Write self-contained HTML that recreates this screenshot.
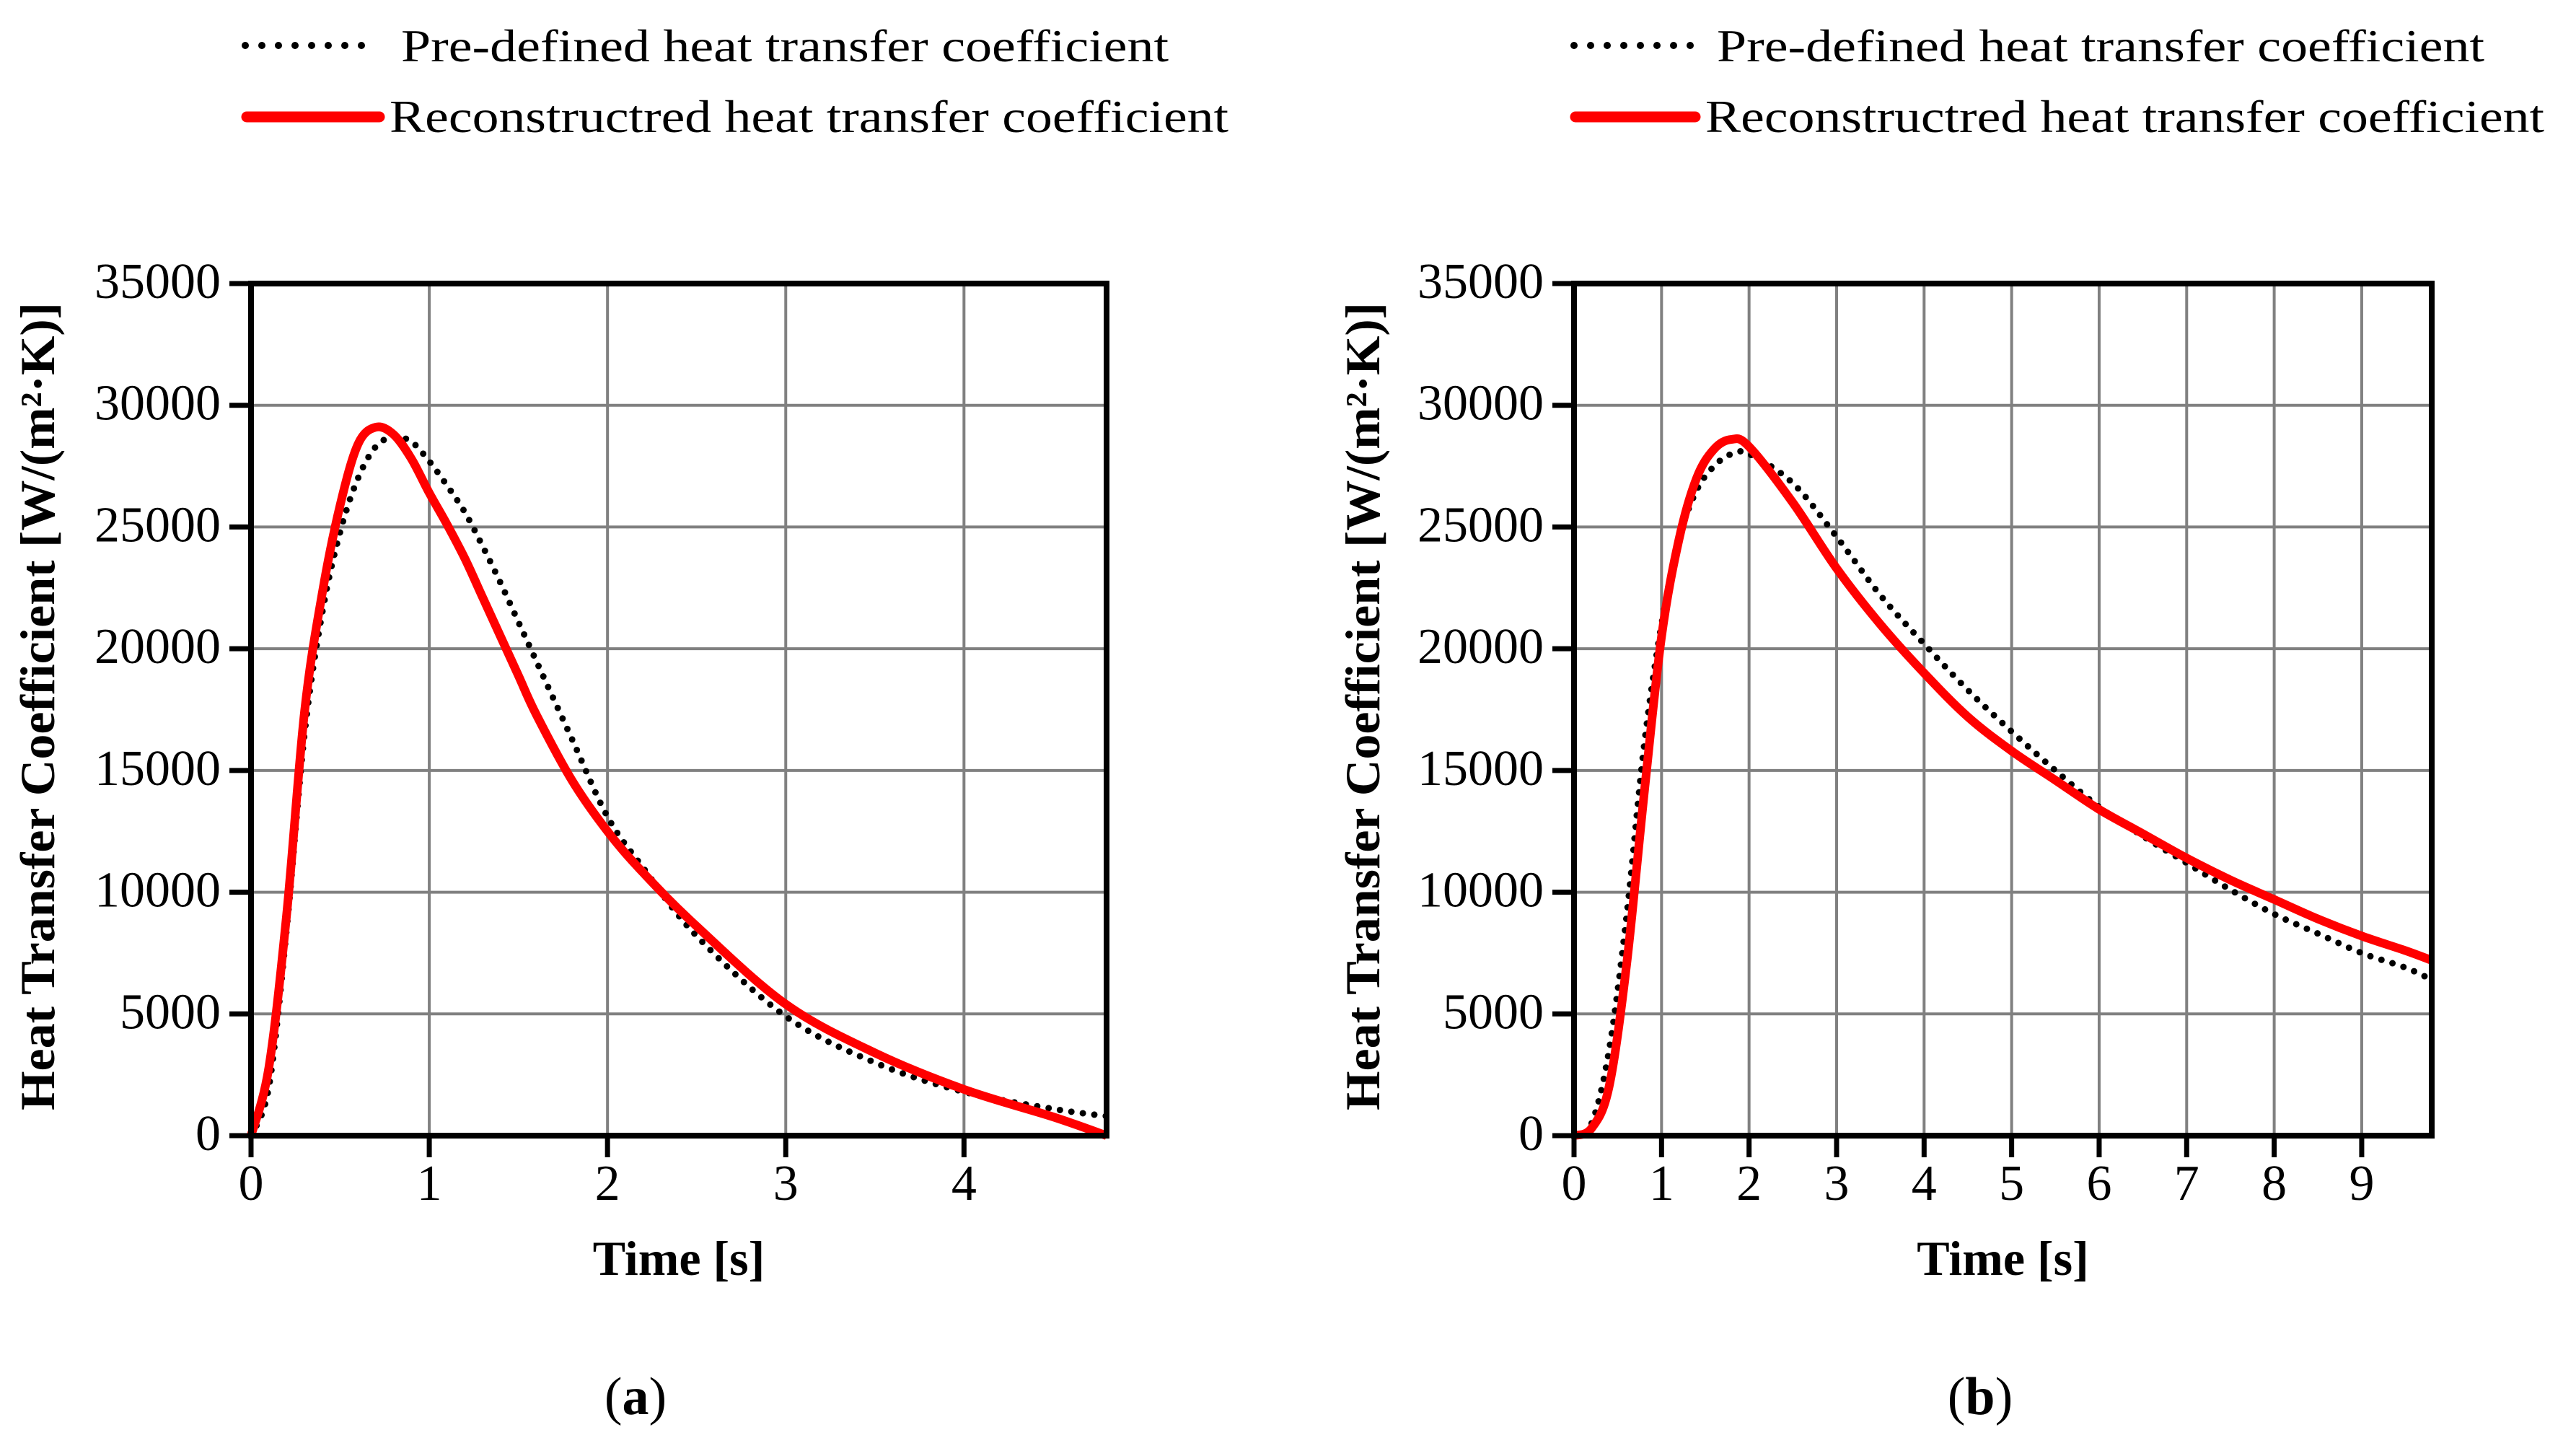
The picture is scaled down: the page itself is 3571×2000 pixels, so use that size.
<!DOCTYPE html>
<html><head><meta charset="utf-8"><style>
html,body{margin:0;padding:0;background:#fff}
svg{display:block}
text{font-family:"Liberation Serif",serif;fill:#000}
</style></head><body>
<svg id="fig" width="3571" height="2000" viewBox="0 0 3571 2000" xmlns="http://www.w3.org/2000/svg"></svg>
<script>
const yTicks=[0,5000,10000,15000,20000,25000,30000,35000];
const aTicks=[0,1,2,3,4];
const bTicks=[0,1,2,3,4,5,6,7,8,9];
const aX=[0,0.1,0.2,0.3,0.4,0.5,0.6,0.7,0.8,0.9,1.0,1.1,1.2,1.3,1.4,1.5,1.6,1.8,2.0,2.2,2.5,3.0,3.5,4.0,4.5,4.8];
const aRed=[0,2800,9100,17400,22300,25900,28400,29100,28800,27800,26400,25100,23700,22100,20500,18900,17300,14600,12500,10800,8600,5400,3400,1900,770,0];
const aBlack=[0,2000,8500,16500,21500,24800,27000,28300,28700,28500,27700,26700,25600,24200,22700,21100,19500,16300,13100,11000,8200,4900,3000,1800,1100,800];
const bX=[0,0.2,0.4,0.6,0.8,1.0,1.2,1.4,1.6,1.8,2.0,2.5,3.0,3.5,4.0,4.5,5.0,5.5,6.0,6.5,7.0,7.5,8.0,8.5,9.0,9.5,9.8];
const bRed=[0,300,2000,7000,14000,20500,24500,27000,28200,28600,28300,26000,23300,21000,19000,17200,15800,14600,13400,12400,11400,10500,9700,8900,8200,7600,7200];
const bBlack=[0,500,3500,9000,16000,21000,24500,26500,27500,28000,28000,26800,24600,22200,20200,18300,16600,15000,13500,12300,11200,10100,9100,8300,7500,6900,6400];

const NS="http://www.w3.org/2000/svg";
const svg=document.getElementById('fig');
function el(tag,attrs,parent,txt){const e=document.createElementNS(NS,tag);for(const k in attrs)e.setAttribute(k,attrs[k]);if(txt!==undefined)e.textContent=txt;(parent||svg).appendChild(e);return e;}
function smooth(pts){let d=`M${pts[0][0]},${pts[0][1]}`;for(let i=0;i<pts.length-1;i++){const p0=pts[Math.max(0,i-1)],p1=pts[i],p2=pts[i+1],p3=pts[Math.min(pts.length-1,i+2)];const c1=[p1[0]+(p2[0]-p0[0])/6,p1[1]+(p2[1]-p0[1])/6],c2=[p2[0]-(p3[0]-p1[0])/6,p2[1]-(p3[1]-p1[1])/6];d+=` C${c1[0]},${c1[1]} ${c2[0]},${c2[1]} ${p2[0]},${p2[1]}`;}return d;}

function panel(cfg){
  const g=el('g',{});
  
  
  const L=cfg.L,R=cfg.R,T=393,B=1574,ymax=35000;
  const sx=v=>L+(v/cfg.xmax)*(R-L), sy=v=>B-(v/ymax)*(B-T);
  cfg.ticks.forEach(t=>{if(t>0){const l=el('line',{x1:sx(t),x2:sx(t),y1:T,y2:B,stroke:'#808080','stroke-width':4},g);}});
  yTicks.forEach(t=>{if(t>0&&t<ymax){const l=el('line',{x1:L,x2:R,y1:sy(t),y2:sy(t),stroke:'#808080','stroke-width':4},g);}});
  const bp=cfg.xs.map((x,i)=>[sx(x),sy(cfg.black[i])]);
  const rp=cfg.xs.map((x,i)=>[sx(x),sy(cfg.red[i])]);
  const pb=el('path',{d:smooth(bp),fill:'none',stroke:'#000','stroke-width':9,'stroke-linecap':'round','stroke-dasharray':'0 16'},g);
  
  const pr=el('path',{d:smooth(rp),fill:'none',stroke:'#ff0000','stroke-width':12,'stroke-linejoin':'round'},g);
  
  const fr=el('rect',{x:L,y:T,width:R-L,height:B-T,fill:'none',stroke:'#000','stroke-width':8},g);
  
  yTicks.forEach(t=>{el('line',{x1:L-30,x2:L,y1:sy(t),y2:sy(t),stroke:'#000','stroke-width':7},g);
    const tx=el('text',{x:L-42,y:sy(t)+20,'font-size':70,'text-anchor':'end'},g,String(t));
    });
  cfg.ticks.forEach(t=>{el('line',{x1:sx(t),x2:sx(t),y1:B,y2:B+30,stroke:'#000','stroke-width':7},g);
    const tx=el('text',{x:sx(t),y:1663,'font-size':70,'text-anchor':'middle'},g,String(t));
    });
  const xt=el('text',{x:(L+R)/2,y:1767,'font-size':68,'font-weight':'bold','text-anchor':'middle'},g,'Time [s]');
  
  const yt=el('text',{x:0,y:0,'font-size':68,'font-weight':'bold','text-anchor':'middle',textLength:1120,lengthAdjust:'spacingAndGlyphs',transform:`translate(${cfg.yx},979) rotate(-90)`},g,'Heat Transfer Coefficient [W/(m²·K)]');
  
  const cap=el('text',{x:cfg.capx,y:1960,'font-size':74,'text-anchor':'middle'},g);
  
  el('tspan',{},cap,'(');el('tspan',{'font-weight':'bold'},cap,cfg.cap);el('tspan',{},cap,')');
  const o=cfg.off, so=cfg.soff;
  const l1=el('line',{x1:340+so,x2:522+so+cfg.extra,y1:63,y2:63,stroke:'#000','stroke-width':10,'stroke-linecap':'round','stroke-dasharray':'0 23'},g);
  
  const t1=el('text',{x:556+o,y:85,'font-size':64,textLength:1064,lengthAdjust:'spacingAndGlyphs'},g,'Pre-defined heat transfer coefficient');
  
  const l2=el('line',{x1:342+so,x2:526+o,y1:162,y2:162,stroke:'#ff0000','stroke-width':15,'stroke-linecap':'round'},g);
  
  const t2=el('text',{x:540+o,y:183,'font-size':64,textLength:1163,lengthAdjust:'spacingAndGlyphs'},g,'Reconstructred heat transfer coefficient');
  
}
panel({name:'panel-a',L:348,R:1534,xmax:4.8,ticks:aTicks,xs:aX,red:aRed,black:aBlack,yx:75,capx:881,cap:'a',off:0,soff:0,extra:0});
panel({name:'panel-b',L:2182,R:3371,xmax:9.8,ticks:bTicks,xs:bX,red:bRed,black:bBlack,yx:1912,capx:2745,cap:'b',off:1824,soff:1842,extra:-4});
</script>
</body></html>
